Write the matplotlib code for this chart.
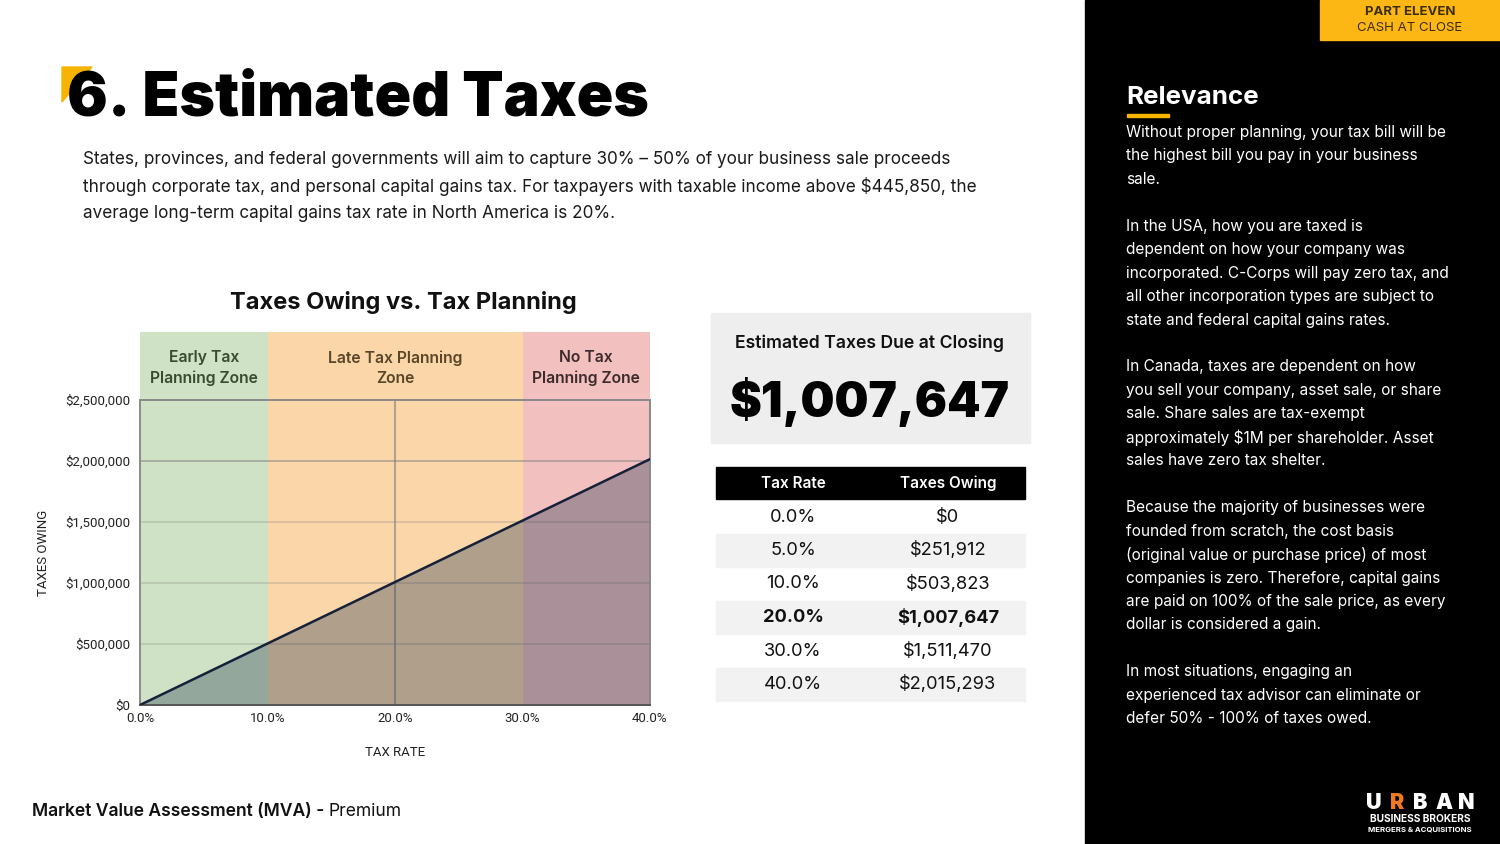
import matplotlib.pyplot as plt
import matplotlib.patches as mpatches
from matplotlib.ticker import FuncFormatter

plt.rcParams['text.parse_math'] = False

W, H = 1500, 844

# data
rates = [0.0, 5.0, 10.0, 20.0, 30.0, 40.0]
taxes = [0, 251912, 503823, 1007647, 1511470, 2015293]
zone_names = ["Early Tax\nPlanning Zone", "Late Tax Planning\nZone", "No Tax\nPlanning Zone"]
zone_edges = [(0, 10), (10, 30), (30, 40)]
zone_colors = ["#cfe2c5", "#fbd6a9", "#f3c0c0"]
zone_text = ["#3a4a30", "#5a4628", "#3d2b2b"]
highlight = 1007647
y_ticks = [0, 500000, 1000000, 1500000, 2000000, 2500000]
x_ticks = [0, 10, 20, 30, 40]

relevance = [
    "Without proper planning, your tax bill will be",
    "the highest bill you pay in your business",
    "sale.",
    "",
    "In the USA, how you are taxed is",
    "dependent on how your company was",
    "incorporated. C-Corps will pay zero tax, and",
    "all other incorporation types are subject to",
    "state and federal capital gains rates.",
    "",
    "In Canada, taxes are dependent on how",
    "you sell your company, asset sale, or share",
    "sale. Share sales are tax-exempt",
    "approximately $1M per shareholder. Asset",
    "sales have zero tax shelter.",
    "",
    "Because the majority of businesses were",
    "founded from scratch, the cost basis",
    "(original value or purchase price) of most",
    "companies is zero. Therefore, capital gains",
    "are paid on 100% of the sale price, as every",
    "dollar is considered a gain.",
    "",
    "In most situations, engaging an",
    "experienced tax advisor can eliminate or",
    "defer 50% - 100% of taxes owed.",
]

intro = [
    "States, provinces, and federal governments will aim to capture 30% \u2013 50% of your business sale proceeds",
    "through corporate tax, and personal capital gains tax. For taxpayers with taxable income above $445,850, the",
    "average long-term capital gains tax rate in North America is 20%.",
]

FONT = "Inter"


def fx(x):
    return x / W


def fy(y):
    return 1 - y / H


fig = plt.figure(figsize=(15, 8.44), dpi=100)
fig.patch.set_facecolor("white")

# right black panel
fig.patches.append(mpatches.Rectangle((fx(1085), 0), fx(415), 1, transform=fig.transFigure,
                                      color="black", zorder=0))
fig.patches.append(mpatches.Rectangle((fx(1320), fy(40)), fx(180), 40 / H, transform=fig.transFigure,
                                      color="#fdb714", zorder=1))
fig.text(fx(1410), fy(12), "PART ELEVEN", ha="center", va="center", fontsize=9.5,
         fontweight="bold", color="#3b2d05", family=FONT)
fig.text(fx(1410), fy(28), "CASH AT CLOSE", ha="center", va="center", fontsize=9.5,
         color="#3b2d05", family=FONT)

# title with yellow corner
fig.patches.append(mpatches.Polygon([(fx(62), fy(67)), (fx(92), fy(67)), (fx(62), fy(102))],
                                    closed=True, transform=fig.transFigure, color="#f6b400", zorder=1))
fig.text(fx(67), fy(100), "6. Estimated Taxes", ha="left", va="center", fontsize=43.5,
         fontweight="black", color="black", family=FONT, zorder=2)

for i, line in enumerate(intro):
    fig.text(fx(83), fy(160 + i * 26.5), line, ha="left", va="center", fontsize=12.35,
             color="#1a1a1a", family=FONT)

# chart
ax = fig.add_axes([fx(140), fy(705), fx(510), 305 / H])
ax.set_xlim(0, 40)
ax.set_ylim(0, 2500000)
for (x0, x1), c, name, tc in zip(zone_edges, zone_colors, zone_names, zone_text):
    ax.axvspan(x0, x1, ymin=0, ymax=1.223, color=c, clip_on=False, zorder=0, lw=0)
    ax.text((x0 + x1) / 2, 1.105, name, transform=ax.get_xaxis_transform(), ha="center",
            va="center", fontsize=11.3, fontweight="semibold", color=tc, family=FONT,
            linespacing=1.45)
ax.set_facecolor("none")
for v in y_ticks[1:-1]:
    a = 0.6 if v == 2000000 else 0.3
    ax.axhline(v, color="#808080", lw=1.2, alpha=a, zorder=1)
ax.axvline(20, color="#808080", lw=1.5, alpha=0.6, zorder=1)
ax.fill_between(rates, taxes, 0, color="#1f3550", alpha=0.34, lw=0, zorder=2)
ax.plot(rates, taxes, color="#15203a", lw=1.8, zorder=3)
ax.set_xticks(x_ticks)
ax.set_yticks(y_ticks)
ax.xaxis.set_major_formatter(FuncFormatter(lambda v, p: f"{v:.1f}%"))
ax.yaxis.set_major_formatter(FuncFormatter(lambda v, p: f"${v:,.0f}"))
ax.tick_params(length=0, labelsize=9.5, colors="#222222")
ax.tick_params(axis="y", pad=7)
ax.tick_params(axis="x", pad=5)
for lab in ax.get_xticklabels() + ax.get_yticklabels():
    lab.set_family("Roboto")
for s in ["left", "bottom", "top", "right"]:
    ax.spines[s].set_color("#8a8a8a")
    ax.spines[s].set_linewidth(1.4)
ax.spines["bottom"].set_color("#555555")
ax.set_xlabel("TAX RATE", fontsize=9.5, family="Roboto", labelpad=15, color="#222222")
ax.set_ylabel("TAXES OWING", fontsize=9.5, family="Roboto", labelpad=11, color="#222222")
fig.text(fx(403), fy(303), "Taxes Owing vs. Tax Planning", ha="center", va="center",
         fontsize=17, fontweight="bold", family=FONT, color="#111111")

# estimated box
fig.patches.append(mpatches.Rectangle((fx(711), fy(443)), fx(319), 130 / H, transform=fig.transFigure,
                                      color="#eeeeee", zorder=0))
fig.text(fx(870), fy(343), "Estimated Taxes Due at Closing", ha="center", va="center",
         fontsize=12.7, fontweight="semibold", family=FONT, color="#111111")
fig.text(fx(870), fy(402), f"${highlight:,.0f}", ha="center", va="center",
         fontsize=34.5, fontweight="black", family=FONT, color="black")

# table
fig.patches.append(mpatches.Rectangle((fx(716), fy(499)), fx(309), 32 / H, transform=fig.transFigure,
                                      color="black", zorder=0))
fig.text(fx(793), fy(483), "Tax Rate", ha="center", va="center", fontsize=11,
         fontweight="semibold", family=FONT, color="white")
fig.text(fx(948), fy(483), "Taxes Owing", ha="center", va="center", fontsize=11,
         fontweight="semibold", family=FONT, color="white")
row_h = 33.5
for i, (r, t) in enumerate(zip(rates, taxes)):
    yc = 517 + i * row_h
    if i % 2 == 1:
        fig.patches.append(mpatches.Rectangle((fx(716), fy(yc + row_h / 2)), fx(309), row_h / H,
                                              transform=fig.transFigure, color="#f2f2f2", zorder=0))
    w = "bold" if t == highlight else "normal"
    fig.text(fx(793), fy(yc), f"{r:.1f}%", ha="center", va="center", fontsize=13.2,
             fontweight=w, family=FONT, color="#111111")
    fig.text(fx(948), fy(yc), f"${t:,.0f}", ha="center", va="center", fontsize=13.2,
             fontweight=w, family=FONT, color="#111111")

# relevance panel
fig.text(fx(1126), fy(97), "Relevance", ha="left", va="center", fontsize=18.7,
         fontweight="bold", family=FONT, color="white")
fig.patches.append(mpatches.Rectangle((fx(1127), fy(117)), fx(42), 3 / H, transform=fig.transFigure,
                                      color="#f6b400", zorder=2))
for i, line in enumerate(relevance):
    if line:
        fig.text(fx(1126), fy(132.5 + i * 23.45), line, ha="left", va="center", fontsize=11.1,
                 family=FONT, color="white")

# footer
t1 = fig.text(fx(32), fy(812), "Market Value Assessment (MVA) - ", ha="left", va="center",
              fontsize=12.6, fontweight="semibold", family=FONT, color="#111111")

# logo: letters spread across the logo width
logo_letters = [("U", "white"), ("R", "#f07a22"), ("B", "white"), ("A", "white"), ("N", "white")]
logo_x = [1374, 1397, 1420, 1444, 1466]
for (ch, col), x in zip(logo_letters, logo_x):
    fig.text(fx(x), fy(809), ch, ha="center", va="baseline", fontsize=15.5,
             fontweight="black", family=FONT, color=col)
fig.text(fx(1420), fy(819), "BUSINESS BROKERS", ha="center", va="center", fontsize=7.3,
         fontweight="bold", family=FONT, color="white")
fig.text(fx(1420), fy(829), "MERGERS & ACQUISITIONS", ha="center", va="center", fontsize=5.6,
         fontweight="bold", family=FONT, color="white")

fig.canvas.draw()
bb = t1.get_window_extent(fig.canvas.get_renderer())
fig.text(bb.x1 / W, fy(812), "Premium", ha="left", va="center", fontsize=12.6,
         family=FONT, color="#111111")

fig.savefig("out.png", dpi=100)
